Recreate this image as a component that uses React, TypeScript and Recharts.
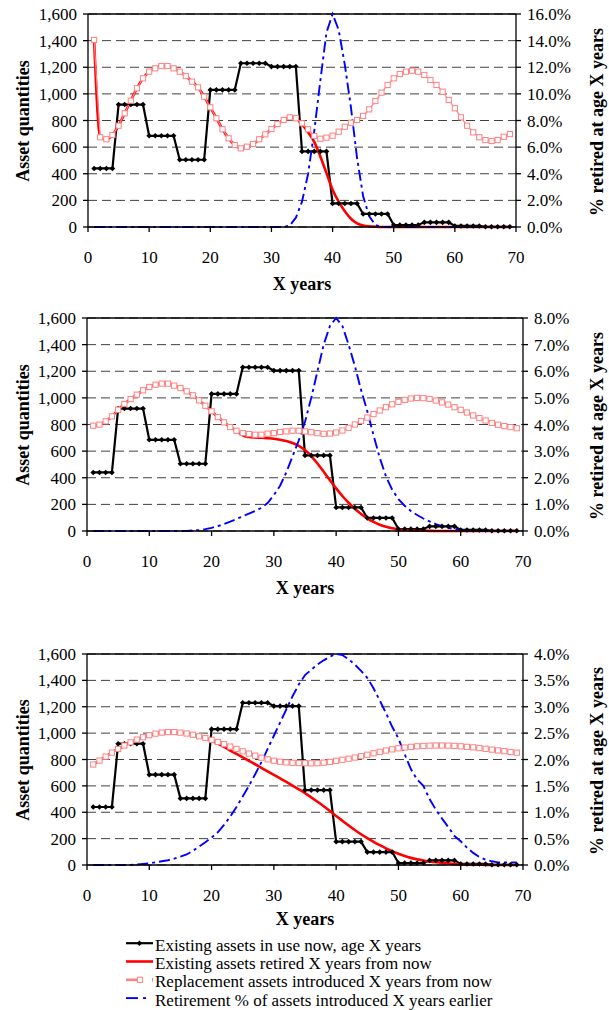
import { LineChart, Line, XAxis, YAxis, CartesianGrid, ReferenceLine } from 'recharts'

const years = [
  1, 2, 3, 4, 5, 6, 7, 8, 9, 10, 11, 12, 13, 14, 15, 16, 17, 18, 19, 20,
  21, 22, 23, 24, 25, 26, 27, 28, 29, 30, 31, 32, 33, 34, 35, 36, 37, 38, 39, 40,
  41, 42, 43, 44, 45, 46, 47, 48, 49, 50, 51, 52, 53, 54, 55, 56, 57, 58, 59, 60,
  61, 62, 63, 64, 65, 66, 67, 68, 69
]

const xTicks = [0, 10, 20, 30, 40, 50, 60, 70]
const qtyTicks = [0, 200, 400, 600, 800, 1000, 1200, 1400, 1600]

// existing assets in use now (same in all three panels)
const existingAssets = [
  440, 440, 440, 440,
  920, 920, 920, 920, 920,
  685, 685, 685, 685, 685,
  505, 505, 505, 505, 505,
  1030, 1030, 1030, 1030, 1030,
  1230, 1230, 1230, 1230, 1230,
  1205, 1205, 1205, 1205, 1205,
  568, 568, 568, 568, 568,
  177, 177, 177, 177, 177,
  98, 98, 98, 98, 98,
  15, 15, 15, 15, 15,
  35, 35, 35, 35, 35,
  8, 8, 8, 8, 8,
  2, 2, 2, 2, 2
]

// panel 1
const replacement1 = [
  1405, 674, 659, 691, 761, 854, 949, 1042, 1117, 1167,
  1192, 1209, 1209, 1192, 1167, 1134, 1092, 1049, 979, 899,
  817, 734, 666, 616, 591, 603, 624, 659, 696, 736,
  774, 804, 824, 817, 779, 734, 684, 663, 671, 686,
  716, 753, 783, 804, 834, 884, 946, 1009, 1067, 1117,
  1149, 1167, 1174, 1167, 1142, 1104, 1067, 1016, 954, 892,
  824, 761, 711, 674, 653, 646, 653, 678, 698
]
const retired1 = [
  1405, 674, 659, 691, 761, 854, 949, 1042, 1117, 1167,
  1192, 1209, 1209, 1192, 1167, 1134, 1092, 1049, 979, 899,
  817, 734, 666, 616, 591, 603, 624, 659, 696, 736,
  774, 804, 824, 817, 770, 712, 640, 530, 405, 280,
  190, 118, 62, 28, 12, 5, 2, 0, 0, 0,
  0, 0, 0, 0, 0, 0, 0, 0, 0, 0,
  0, 0, 0, 0, 0, 0, 0, 0, 0
]
const retirementPct1 = [
  0, 0, 0, 0, 0, 0, 0, 0, 0, 0,
  0, 0, 0, 0, 0, 0, 0, 0, 0, 0,
  0, 0, 0, 0, 0, 0, 0, 0, 0, 0,
  0, 0, 0.1, 0.7, 1.9, 4.0, 7.2, 11.0, 14.6, 16.0,
  14.8, 12.2, 9.0, 5.2, 2.3, 0.8, 0.15, 0, 0, 0,
  0, 0, 0, 0, 0, 0, 0, 0, 0, 0,
  0, 0, 0, 0, 0, 0, 0, 0, 0
]

// panel 2
const replacement2 = [
  791, 799, 824, 861, 911, 954, 991, 1024, 1057, 1082,
  1099, 1107, 1107, 1092, 1074, 1049, 1019, 981, 941, 899,
  856, 816, 781, 753, 736, 728, 723, 723, 731, 736,
  744, 748, 753, 753, 748, 742, 735, 730, 732, 740,
  755, 775, 800, 826, 852, 878, 905, 930, 952, 970,
  985, 995, 1000, 998, 992, 980, 966, 950, 930, 910,
  890, 868, 848, 830, 812, 798, 788, 780, 772
]
const retired2 = [
  791, 799, 824, 861, 911, 954, 991, 1024, 1057, 1082,
  1099, 1107, 1107, 1092, 1074, 1049, 1019, 981, 941, 899,
  856, 816, 781, 753, 718, 706, 702, 700, 697, 693,
  686, 676, 661, 640, 608, 563, 507, 445, 382, 320,
  263, 212, 167, 128, 95, 68, 47, 32, 21, 13,
  8, 5, 3, 2, 1, 0, 0, 0, 0, 0,
  0, 0, 0, 0, 0, 0, 0, 0, 0
]
const retirementPct2 = [
  0, 0, 0, 0, 0, 0, 0, 0, 0, 0,
  0, 0, 0, 0, 0, 0, 0.02, 0.04, 0.07, 0.12,
  0.18, 0.26, 0.35, 0.45, 0.55, 0.65, 0.75, 0.87, 1.05, 1.35,
  1.7, 2.2, 2.8, 3.4, 4.1, 5.0, 6.0, 7.0, 7.7, 8.0,
  7.7, 7.0, 6.2, 5.3, 4.5, 3.6, 2.75, 2.05, 1.55, 1.2,
  0.95, 0.75, 0.6, 0.47, 0.36, 0.26, 0.18, 0.12, 0.07, 0.04,
  0.02, 0.01, 0, 0, 0, 0, 0, 0, 0
]

// panel 3
const replacement3 = [
  762, 792, 822, 852, 880, 906, 930, 951, 969, 984,
  996, 1004, 1008, 1008, 1004, 997, 988, 976, 963, 949,
  933, 916, 898, 880, 862, 845, 829, 814, 801, 791,
  783, 778, 775, 773, 772, 771, 772, 776, 782, 790,
  798, 806, 815, 825, 836, 847, 858, 868, 877, 885,
  891, 896, 900, 903, 905, 906, 906, 905, 903, 900,
  896, 892, 887, 881, 875, 869, 863, 857, 852
]
const retired3 = [
  762, 792, 822, 852, 880, 906, 930, 951, 969, 984,
  996, 1004, 1008, 1008, 1004, 997, 988, 976, 962, 944,
  920, 895, 868, 842, 816, 790, 764, 737, 710, 684,
  657, 630, 602, 574, 545, 513, 480, 446, 410, 372,
  336, 300, 265, 233, 203, 176, 150, 126, 104, 85,
  68, 54, 43, 34, 27, 21, 16, 12, 9, 6,
  4, 3, 2, 1, 1, 0, 0, 0, 0
]
const retirementPct3 = [
  0, 0, 0, 0, 0, 0, 0, 0.01, 0.02, 0.03,
  0.05, 0.07, 0.09, 0.12, 0.16, 0.2, 0.27, 0.35, 0.43, 0.52,
  0.62, 0.76, 0.92, 1.1, 1.3, 1.5, 1.72, 1.95, 2.2, 2.45,
  2.7, 2.95, 3.2, 3.42, 3.6, 3.7, 3.8, 3.88, 3.95, 4.0,
  3.98, 3.9, 3.8, 3.68, 3.55, 3.35, 3.12, 2.88, 2.62, 2.4,
  2.1, 1.82, 1.62, 1.5, 1.25, 1.05, 0.88, 0.72, 0.55, 0.45,
  0.33, 0.23, 0.15, 0.1, 0.07, 0.05, 0.05, 0.05, 0.05
]

const pctTicks1 = [0, 2, 4, 6, 8, 10, 12, 14, 16]
const pctTicks2 = [0, 1, 2, 3, 4, 5, 6, 7, 8]
const pctTicks3 = [0, 0.5, 1, 1.5, 2, 2.5, 3, 3.5, 4]

const legendLabels = [
  'Existing assets in use now, age X years',
  'Existing assets retired X years from now',
  'Replacement assets introduced X years from now',
  'Retirement % of assets introduced X years earlier'
]

const FONT = '"Liberation Serif", "Times New Roman", serif'
const PINK = '#FF8080'
const BLUE = '#0000FF'
const RED = '#FF0000'

const DiamondDot = (props: any) => {
  const { cx, cy, index } = props
  if (cx == null || cy == null) return <g key={`dm-${index}`} />
  const r = 2.8
  return (
    <path
      key={`dm-${index}`}
      d={`M${cx},${cy - r}L${cx + r},${cy}L${cx},${cy + r}L${cx - r},${cy}Z`}
      fill="#000"
    />
  )
}

const SquareDot = (props: any) => {
  const { cx, cy, index } = props
  if (cx == null || cy == null) return <g key={`sq-${index}`} />
  return (
    <rect
      key={`sq-${index}`}
      x={cx - 2.6}
      y={cy - 2.6}
      width={5.2}
      height={5.2}
      fill="#fff"
      stroke={PINK}
      strokeWidth={1}
    />
  )
}

const tickStyle = { fill: '#000', fontSize: 17, fontFamily: FONT }
const titleStyle: any = {
  position: 'absolute',
  fontFamily: FONT,
  fontWeight: 'bold',
  fontSize: 18,
  color: '#000',
  whiteSpace: 'nowrap',
  lineHeight: 1
}

const Panel = ({ top, height, marginTop, plotHeight, leftWidth, rightWidth, data, pctMax, pctTicks, titleGap }: any) => {
  const zeroY = top + marginTop + plotHeight
  const plotLeft = leftWidth
  const plotRight = 609 - rightWidth
  const midX = (plotLeft + plotRight) / 2
  const midY = top + marginTop + plotHeight / 2
  return (
    <>
      <div style={{ position: 'absolute', left: 0, top }}>
        <LineChart
          width={609}
          height={height}
          data={data}
          margin={{ top: marginTop, right: 0, bottom: 0, left: 0 }}
        >
          <CartesianGrid
            yAxisId="left"
            vertical={false}
            stroke="#404040"
            strokeDasharray="9 5"
          />
          <XAxis
            dataKey="x"
            type="number"
            domain={[0, 70]}
            ticks={xTicks}
            interval={0}
            height={height - marginTop - plotHeight}
            tick={tickStyle}
            tickSize={5}
            tickMargin={19}
            axisLine={{ stroke: '#000', strokeWidth: 1.3 }}
            tickLine={{ stroke: '#000', strokeWidth: 1.3 }}
          />
          <YAxis
            yAxisId="left"
            domain={[0, 1600]}
            ticks={qtyTicks}
            interval={0}
            width={leftWidth}
            tick={tickStyle}
            tickSize={5}
            tickMargin={6}
            tickFormatter={(v: number) => v.toLocaleString('en-US')}
            axisLine={{ stroke: '#000', strokeWidth: 1.3 }}
            tickLine={{ stroke: '#000', strokeWidth: 1.3 }}
          />
          <YAxis
            yAxisId="right"
            orientation="right"
            domain={[0, pctMax]}
            ticks={pctTicks}
            interval={0}
            width={rightWidth}
            tick={tickStyle}
            tickSize={5}
            tickMargin={6}
            tickFormatter={(v: number) => v.toFixed(1) + '%'}
            axisLine={{ stroke: '#000', strokeWidth: 1.3 }}
            tickLine={{ stroke: '#000', strokeWidth: 1.3 }}
          />
          <ReferenceLine yAxisId="left" y={1600} stroke="#000" strokeWidth={1.3} />
          <Line
            yAxisId="left"
            dataKey="existing"
            type="linear"
            stroke="#000"
            strokeWidth={2.2}
            dot={DiamondDot}
            activeDot={false}
            isAnimationActive={false}
          />
          <Line
            yAxisId="left"
            dataKey="retired"
            type="monotone"
            stroke={RED}
            strokeWidth={2.6}
            dot={false}
            activeDot={false}
            isAnimationActive={false}
          />
          <Line
            yAxisId="left"
            dataKey="replacement"
            type="linear"
            stroke={PINK}
            strokeWidth={1.2}
            dot={SquareDot}
            activeDot={false}
            isAnimationActive={false}
          />
          <Line
            yAxisId="right"
            dataKey="pct"
            type="linear"
            stroke={BLUE}
            strokeWidth={1.9}
            strokeDasharray="11 4 3 4"
            dot={false}
            activeDot={false}
            isAnimationActive={false}
          />
        </LineChart>
      </div>
      <div style={{ ...titleStyle, left: midX, top: zeroY + titleGap, transform: 'translate(-50%, -50%)' }}>
        X years
      </div>
      <div style={{ ...titleStyle, left: 23, top: midY, transform: 'translate(-50%, -50%) rotate(-90deg)' }}>
        Asset quantities
      </div>
      <div style={{ ...titleStyle, left: 597, top: midY + 1, transform: 'translate(-50%, -50%) rotate(-90deg)' }}>
        % retired at age X years
      </div>
    </>
  )
}

const Legend = () => {
  const baselines = [20.7, 39, 57.3, 75.6]
  return (
    <svg
      width={609}
      height={80}
      style={{ position: 'absolute', left: 0, top: 930 }}
    >
      {/* black with marker */}
      <line x1={126} x2={153} y1={baselines[0] - 7.5} y2={baselines[0] - 7.5} stroke="#000" strokeWidth={2.2} />
      <path
        d={`M139.5,${baselines[0] - 10.3}L142.3,${baselines[0] - 7.5}L139.5,${baselines[0] - 4.7}L136.7,${baselines[0] - 7.5}Z`}
        fill="#000"
      />
      {/* red */}
      <line x1={126} x2={153} y1={baselines[1] - 7.5} y2={baselines[1] - 7.5} stroke={RED} strokeWidth={2.6} />
      {/* pink with square */}
      <line x1={126} x2={138} y1={baselines[2] - 7.5} y2={baselines[2] - 7.5} stroke={PINK} strokeWidth={2.6} />
      <rect x={137.4} y={baselines[2] - 10.1} width={5.2} height={5.2} fill="#fff" stroke={PINK} strokeWidth={1} />
      <line x1={152.5} x2={152.5} y1={baselines[2] - 9.5} y2={baselines[2] - 5.5} stroke={PINK} strokeWidth={1} />
      {/* blue dash-dot */}
      <line x1={126} x2={138} y1={baselines[3] - 7.5} y2={baselines[3] - 7.5} stroke={BLUE} strokeWidth={1.9} />
      <line x1={143} x2={146} y1={baselines[3] - 7.5} y2={baselines[3] - 7.5} stroke={BLUE} strokeWidth={1.9} />
      {legendLabels.map((label, i) => (
        <text
          key={label}
          x={155}
          y={baselines[i]}
          fontFamily={FONT}
          fontSize={17}
          fill="#000"
        >
          {label}
        </text>
      ))}
    </svg>
  )
}

const buildRows = (retired: number[], replacement: number[], pct: number[]) =>
  years.map((x, i) => ({
    x,
    existing: existingAssets[i],
    retired: retired[i],
    replacement: replacement[i],
    pct: pct[i]
  }))

const App = () => {
  const data1 = buildRows(retired1, replacement1, retirementPct1)
  const data2 = buildRows(retired2, replacement2, retirementPct2)
  const data3 = buildRows(retired3, replacement3, retirementPct3)

  return (
    <div style={{ position: 'absolute', left: 0, top: 0, width: 609, height: 1010, background: '#fff', fontFamily: FONT }}>
      <Panel
        top={0}
        height={300}
        marginTop={14}
        plotHeight={213}
        leftWidth={88}
        rightWidth={93}
        data={data1}
        pctMax={16}
        pctTicks={pctTicks1}
        titleGap={57}
      />
      <Panel
        top={300}
        height={310}
        marginTop={18}
        plotHeight={213}
        leftWidth={87}
        rightWidth={86}
        data={data2}
        pctMax={8}
        pctTicks={pctTicks2}
        titleGap={57}
      />
      <Panel
        top={640}
        height={290}
        marginTop={14}
        plotHeight={211}
        leftWidth={87}
        rightWidth={86}
        data={data3}
        pctMax={4}
        pctTicks={pctTicks3}
        titleGap={54}
      />
      <Legend />
    </div>
  )
}

export default App
